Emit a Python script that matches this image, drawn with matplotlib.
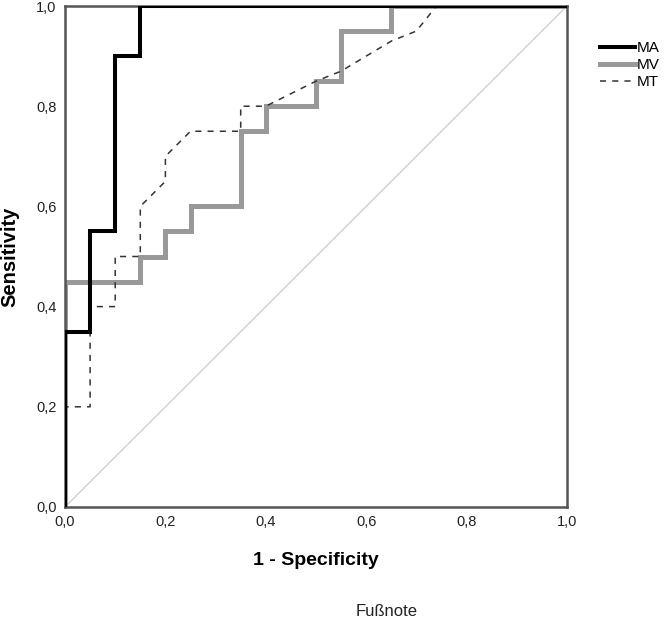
import matplotlib
matplotlib.use('Agg')
import matplotlib.pyplot as plt

plt.rcParams['font.family'] = ['Liberation Sans', 'DejaVu Sans']

# ROC-Kurven (1 - Spezifität, Sensitivität)
ma_fpr = [0, 0, 0.05, 0.05, 0.10, 0.10, 0.15, 0.15, 1.0]
ma_tpr = [0, 0.35, 0.35, 0.55, 0.55, 0.90, 0.90, 1.0, 1.0]

mv_fpr = [0, 0, 0.15, 0.15, 0.20, 0.20, 0.25, 0.25, 0.35, 0.35, 0.40, 0.40,
          0.50, 0.50, 0.55, 0.55, 0.65, 0.65, 1.0]
mv_tpr = [0, 0.45, 0.45, 0.50, 0.50, 0.55, 0.55, 0.60, 0.60, 0.75, 0.75, 0.80,
          0.80, 0.85, 0.85, 0.95, 0.95, 1.0, 1.0]

mt_fpr = [0, 0, 0.05, 0.05, 0.10, 0.10, 0.15, 0.15, 0.20, 0.20, 0.25, 0.35,
          0.35, 0.40, 0.50, 0.55, 0.65, 0.70, 0.74, 1.0]
mt_tpr = [0, 0.20, 0.20, 0.40, 0.40, 0.50, 0.50, 0.60, 0.65, 0.70, 0.75, 0.75,
          0.80, 0.80, 0.85, 0.87, 0.93, 0.95, 1.0, 1.0]

ticks = [0.0, 0.2, 0.4, 0.6, 0.8, 1.0]
tick_labels = ['0,0', '0,2', '0,4', '0,6', '0,8', '1,0']

fig = plt.figure(figsize=(6.66, 6.20), dpi=100)
ax = fig.add_axes([65 / 666, 1 - 507 / 620, 502 / 666, 501 / 620])

ax.plot([0, 1], [0, 1], color='#cccccc', lw=0.9, zorder=1)
ax.plot(mv_fpr, mv_tpr, color='#999999', lw=3.6, label='MV', zorder=2,
        solid_joinstyle='miter')
ax.plot(mt_fpr, mt_tpr, color='#333333', lw=1.1, ls=(0, (4, 4)), label='MT', zorder=3)
ax.plot(ma_fpr, ma_tpr, color='black', lw=2.9, label='MA', zorder=4,
        solid_joinstyle='miter')

ax.set_xlim(0, 1)
ax.set_ylim(0, 1)
ax.set_xticks(ticks)
ax.set_xticklabels(tick_labels)
ax.set_yticks(ticks)
ax.set_yticklabels(tick_labels)
ax.tick_params(length=0, labelsize=10.5, colors='#222222', pad=6)
for s in ax.spines.values():
    s.set_color('#555555')
    s.set_linewidth(1.8)

ax.set_xlabel('1 - Specificity', fontsize=14, fontweight='bold', labelpad=16)
ax.set_ylabel('Sensitivity', fontsize=14.5, fontweight='bold', labelpad=12)

h, l = ax.get_legend_handles_labels()
order = [l.index('MA'), l.index('MV'), l.index('MT')]
fig.legend([h[i] for i in order], [l[i] for i in order],
           loc='upper left', bbox_to_anchor=(594 / 666, 1 - 35 / 620),
           frameon=False, fontsize=11, handlelength=2.3, handletextpad=0.1,
           labelspacing=0.2, borderaxespad=0)

fig.text(387 / 666, 1 - 612 / 620, 'Fußnote', ha='center', va='center',
         fontsize=12, color='#222222')

fig.savefig('out.png', dpi=100)
